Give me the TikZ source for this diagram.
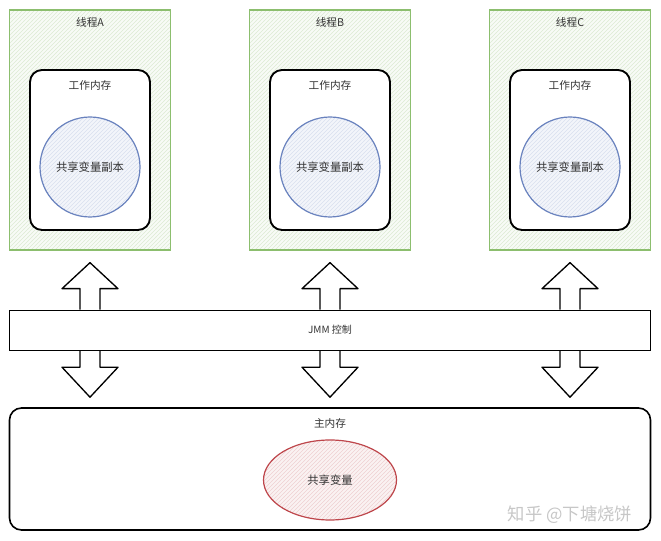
\documentclass[tikz,border=0pt]{standalone}
\usepackage{fontspec}
\newfontfamily\cjk{Noto Sans CJK SC}
\usetikzlibrary{positioning,calc,patterns,shapes.geometric}

\definecolor{threadgreen}{RGB}{140,190,110}
\definecolor{copyblue}{RGB}{105,130,190}
\definecolor{sharedred}{RGB}{190,70,75}

\begin{document}
\begin{tikzpicture}[x=0.75pt,y=-0.75pt,semithick]
      \def \px {0.75pt}
      \tikzstyle{every node}=[font=\cjk\fontsize{8}{10}\selectfont, text=black!80]
      \tikzstyle{thread}=[draw=threadgreen, line width=1pt,
        preaction={fill=threadgreen!6}, pattern=north east lines,
        pattern color=threadgreen!30, minimum width=161*\px,
        minimum height=240*\px, inner sep=0pt]
      \tikzstyle{workmem}=[draw, line width=1.4pt, fill=white,
        rounded corners=9pt, minimum width=120*\px,
        minimum height=160*\px, inner sep=0pt]
      \tikzstyle{copyvar}=[circle, draw=copyblue, line width=0.9pt,
        preaction={fill=copyblue!8}, pattern=north east lines,
        pattern color=copyblue!25, minimum size=100*\px, inner sep=0pt,
        font=\cjk\fontsize{8.5}{10}\selectfont]
      \tikzstyle{bar}=[draw, thin, fill=white, minimum width=641*\px,
        minimum height=40*\px, inner sep=0pt,
        font=\cjk\fontsize{7.5}{9}\selectfont]
      \tikzstyle{mainmem}=[draw, line width=1.2pt, fill=white,
        rounded corners=9pt, minimum width=641*\px,
        minimum height=122*\px, inner sep=0pt]
      \tikzstyle{sharedvar}=[ellipse, draw=sharedred, line width=0.9pt,
        preaction={fill=sharedred!7}, pattern=north east lines,
        pattern color=sharedred!25, minimum width=133*\px,
        minimum height=80*\px, inner sep=0pt,
        font=\cjk\fontsize{8.5}{10}\selectfont]
      \tikzstyle{lbl}=[inner sep=2pt]
      \tikzstyle{watermark}=[text=black!22, font=\cjk\fontsize{13}{15}\selectfont]
      \tikzstyle{upblock}=[line width=1pt, line join=round,
        to path={($(\tikztostart)+(-10,0)$) |- ($(\tikztotarget)+(-28,26)$)
          -- (\tikztotarget) -- ($(\tikztotarget)+(28,26)$)
          -| ($(\tikztostart)+(10,0)$)}]
      \tikzstyle{downblock}=[line width=1pt, line join=round,
        to path={($(\tikztostart)+(-10,0)$) |- ($(\tikztotarget)+(-28,-30)$)
          -- (\tikztotarget) -- ($(\tikztotarget)+(28,-30)$)
          -| ($(\tikztostart)+(10,0)$)}]

      \useasboundingbox[fill=white] (0,0) rectangle (661,541);

      % three threads, each with its own working memory
      \foreach \t/\x in {A/90,B/330,C/570} {
        \node[thread] (thread\t) at (\x,130) {};
        \node[lbl, below=4pt of thread\t.north] (name\t) {线程\t};
        \node[workmem] (work\t) at (\x,150) {};
        \node[lbl, below=6pt of work\t.north] (worklbl\t) {工作内存};
        \node[copyvar] (copy\t) at (\x,167) {共享变量副本};
      }

      \node[bar] (jmm) at (330,330) {JMM 控制};

      \node[mainmem] (main) at (330,469) {};
      \node[lbl, below=6pt of main.north] (mainlbl) {主内存};
      \node[sharedvar] (shared) at (330,480) {共享变量};
      \node[watermark] (zhihu) at (570,515) {知乎 @下塘烧饼};

      % block arrows between JMM and the memories
      \foreach \t in {A,B,C} {
        \coordinate (up\t) at ($(thread\t.south)+(0,12)$);
        \coordinate (down\t) at ($(main.north -| thread\t.south)+(0,-10)$);
        \draw[upblock] (jmm.north -| thread\t.south) to (up\t);
        \draw[downblock] (jmm.south -| thread\t.south) to (down\t);
      }
    \end{tikzpicture}
\end{document}
